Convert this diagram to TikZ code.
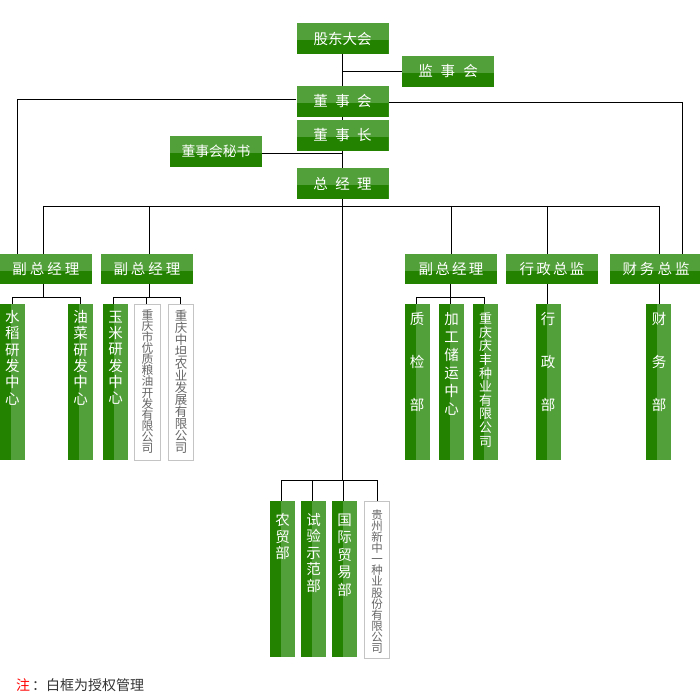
\documentclass[tikz,border=0pt]{standalone}
\usepackage{fontspec}
\setmainfont{Noto Sans CJK SC}
\definecolor{gLight}{HTML}{52A039}
\definecolor{gDark}{HTML}{238200}
\definecolor{wBorder}{HTML}{C4C4C4}
\definecolor{wText}{HTML}{666666}
\definecolor{noteGray}{HTML}{333333}
\tikzset{
  hbox/.style={minimum width=92pt, minimum height=30.5pt, inner sep=0pt, fill=gLight, text=white,
    font=\fontsize{14.5}{14.5}\selectfont,
    path picture={\fill[gDark] ([yshift=-17pt]path picture bounding box.north west) rectangle (path picture bounding box.south east);}},
  gbox/.style={minimum width=25pt, minimum height=156pt, inner sep=0pt, fill=gLight,
    path picture={\fill[gDark] (path picture bounding box.north west) rectangle ([xshift=10.5pt]path picture bounding box.south west);}},
  wbox/.style={minimum width=25.5pt, minimum height=156pt, inner sep=0pt, fill=white, draw=wBorder, line width=0.9pt},
  gtext/.style={text=white, inner sep=0pt, align=center},
  wtext/.style={text=wText, inner sep=0pt, align=center},
  conn/.style={draw=black, line width=0.95pt},
}
\newcommand{\gsp}[1]{\hspace{#1pt}}
\begin{document}
\begin{tikzpicture}[x=1pt,y=-1pt]
\useasboundingbox (0,0) rectangle (700,700);

% top column
\node[hbox] (gdh) at (342.5,38.5) {股东大会};
\node[hbox] (jsh) at (448,71.5) {监\gsp{8}事\gsp{8}会};
\node[hbox] (dsh) at (342.5,101.5) {董\gsp{7.5}事\gsp{7.5}会};
\node[hbox] (dsz) at (342.5,135.5) {董\gsp{7.5}事\gsp{7.5}长};
\node[hbox, font=\fontsize{13.8}{13.8}\selectfont] (msh) at (216,151.5) {董事会秘书};
\node[hbox] (zjl) at (342.5,183.5) {总\gsp{7.5}经\gsp{7.5}理};

% second row
\node[hbox] (f1) at (46,269) {副\gsp{3}总\gsp{3}经\gsp{3}理};
\node[hbox] (f2) at (147,269) {副\gsp{3}总\gsp{3}经\gsp{3}理};
\node[hbox] (f3) at (451,269) {副\gsp{2.2}总\gsp{2.2}经\gsp{2.2}理};
\node[hbox] (xz) at (552,269) {行\gsp{2.2}政\gsp{2.2}总\gsp{2.2}监};
\node[hbox] (cw) at (656,269) {财\gsp{3}务\gsp{3}总\gsp{3}监};

% third row boxes
\node[gbox] (b1) at (12.5,382) {};
\node[gbox] (b2) at (80.5,382) {};
\node[gbox] (b3) at (115.5,382) {};
\node[wbox] (w1) at (147.5,382) {};
\node[wbox] (w2) at (181,382) {};
\node[gbox] (b4) at (417.5,382) {};
\node[gbox] (b5) at (451.5,382) {};
\node[gbox] (b6) at (485.5,382) {};
\node[gbox] (b7) at (548.5,382) {};
\node[gbox] (b8) at (658.5,382) {};

% bottom row boxes
\node[gbox] (c1) at (282.5,579) {};
\node[gbox] (c2) at (313.5,579) {};
\node[gbox] (c3) at (344.5,579) {};
\node[wbox, minimum height=157pt] (w3) at (377,579.5) {};

% vertical texts
\node[gtext, font=\fontsize{14.5}{16.3}\selectfont] (t1) at (12.5,357.7) {水\\稻\\研\\发\\中\\心};
\node[gtext, font=\fontsize{14.5}{16.3}\selectfont] (t2) at (80.5,357.7) {油\\菜\\研\\发\\中\\心};
\node[gtext, font=\fontsize{14.5}{16.3}\selectfont] (t3) at (115.5,357.7) {玉\\米\\研\\发\\中\\心};
\node[wtext, font=\fontsize{11.8}{11.1}\selectfont] (t4) at (147.5,381.5) {重\\庆\\市\\优\\质\\粮\\油\\开\\发\\有\\限\\公\\司};
\node[wtext, font=\fontsize{12.5}{12}\selectfont] (t5) at (181,382) {重\\庆\\中\\坦\\农\\业\\发\\展\\有\\限\\公\\司};
\node[gtext, font=\fontsize{14.5}{43}\selectfont] (t6) at (417,362) {质\\检\\部};
\node[gtext, font=\fontsize{14.5}{18}\selectfont] (t7) at (451.5,364) {加\\工\\储\\运\\中\\心};
\node[gtext, font=\fontsize{13}{13.6}\selectfont] (t8) at (485.5,380) {重\\庆\\庆\\丰\\种\\业\\有\\限\\公\\司};
\node[gtext, font=\fontsize{14.5}{43}\selectfont] (t9) at (548,362) {行\\政\\部};
\node[gtext, font=\fontsize{14.5}{43}\selectfont] (t10) at (659,362) {财\\务\\部};
\node[gtext, font=\fontsize{14.5}{16.5}\selectfont] (t11) at (282.5,536.5) {农\\贸\\部};
\node[gtext, font=\fontsize{14.5}{16.5}\selectfont] (t12) at (313.5,553) {试\\验\\示\\范\\部};
\node[gtext, font=\fontsize{14.5}{17.5}\selectfont] (t13) at (344.5,555) {国\\际\\贸\\易\\部};
\node[wtext, font=\fontsize{11.5}{11.1}\selectfont] (t14) at (377,581.5) {贵\\州\\新\\中\\一\\种\\业\\股\\份\\有\\限\\公\\司};

% note
\node[anchor=west, inner sep=0pt, font=\fontsize{14}{14}\selectfont, text=noteGray] (note) at (16,685) {\textcolor{red}{注}\hspace{2pt}：白框为授权管理};

% helper coordinates
\coordinate (busA) at (343,206);
\coordinate (busB) at (343,480);
\coordinate (f1s) at (43,254);
\coordinate (f2s) at (149,254);
\coordinate (xzs) at (547,254);
\coordinate (cws) at (659,254);
\coordinate (dl) at (17.3,254);
\coordinate (dr) at (682.7,254);
\coordinate (f1b) at (43,284);
\coordinate (f2b) at (149,284);
\coordinate (f3b) at (450,284);
\coordinate (xzb) at (547,284);
\coordinate (cwb) at (659,284);
\coordinate (sbA) at (0,297);

% main spine
\draw[conn] (gdh.south) -- (dsh.north);
\draw[conn] (dsh.south) -- (dsz.north);
\draw[conn] (dsz.south) -- (zjl.north);
\draw[conn] (zjl.south) -- (zjl.south |- busB);
\draw[conn] (jsh.west -| gdh.south) -- (jsh.west);
\draw[conn] ([yshift=-1.8pt]msh.east) -- ([yshift=-1.8pt]msh.east -| zjl.north);
\draw[conn] ([yshift=2.2pt]dsh.west) -| (dl);
\draw[conn] ([yshift=-0.8pt]dsh.east) -| (dr);

% second-row bus
\draw[conn] (f1s |- busA) -- (cws |- busA);
\draw[conn] (f1s |- busA) -- (f1s);
\draw[conn] (f2s |- busA) -- (f2s);
\draw[conn] (f3.north |- busA) -- (f3.north);
\draw[conn] (xzs |- busA) -- (xzs);
\draw[conn] (cws |- busA) -- (cws);

% f1 children
\draw[conn] (f1b) -- (f1b |- sbA);
\draw[conn] (b1.north |- sbA) -- (b2.north |- sbA);
\draw[conn] (b1.north |- sbA) -- (b1.north);
\draw[conn] (b2.north |- sbA) -- (b2.north);
% f2 children
\draw[conn] (f2b) -- (f2b |- sbA);
\draw[conn] ([xshift=-2pt]b3.north |- sbA) -- ([xshift=-1pt]w2.north |- sbA);
\draw[conn] ([xshift=-2pt]b3.north |- sbA) -- ([xshift=-2pt]b3.north);
\draw[conn] ([xshift=-1pt]w1.north |- sbA) -- ([xshift=-1pt]w1.north);
\draw[conn] ([xshift=-1pt]w2.north |- sbA) -- ([xshift=-1pt]w2.north);
% f3 children
\draw[conn] (f3b) -- (f3b |- sbA);
\draw[conn] ([xshift=-1.5pt]b4.north |- sbA) -- ([xshift=-1.5pt]b6.north |- sbA);
\draw[conn] ([xshift=-1.5pt]b4.north |- sbA) -- ([xshift=-1.5pt]b4.north);
\draw[conn] ([xshift=-1.5pt]b5.north |- sbA) -- ([xshift=-1.5pt]b5.north);
\draw[conn] ([xshift=-1.5pt]b6.north |- sbA) -- ([xshift=-1.5pt]b6.north);
% single children
\draw[conn] (xzb) -- (xzb |- b7.north);
\draw[conn] (cwb) -- (cwb |- b8.north);

% bottom bus
\draw[conn] ([xshift=-1.5pt]c1.north |- busB) -- (w3.north |- busB);
\draw[conn] ([xshift=-1.5pt]c1.north |- busB) -- ([xshift=-1.5pt]c1.north);
\draw[conn] ([xshift=-1.5pt]c2.north |- busB) -- ([xshift=-1.5pt]c2.north);
\draw[conn] ([xshift=-1.5pt]c3.north |- busB) -- ([xshift=-1.5pt]c3.north);
\draw[conn] (w3.north |- busB) -- (w3.north);
\end{tikzpicture}
\end{document}
